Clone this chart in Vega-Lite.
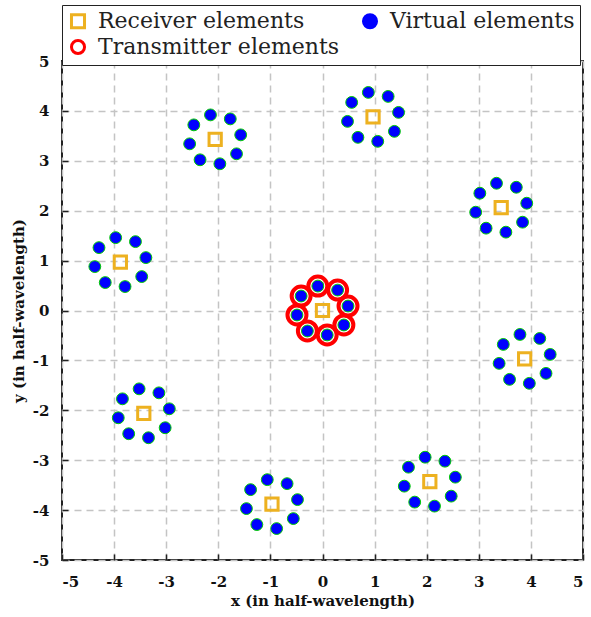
{
  "$schema": "https://vega.github.io/schema/vega-lite/v6.json",
  "width": 521,
  "height": 499,
  "autosize": {"type": "none"},
  "padding": {"left": 62, "top": 61, "right": 8, "bottom": 57},
  "background": "white",
  "config": {
    "view": {"stroke": "#222222", "strokeWidth": 2},
    "axis": {
      "grid": true,
      "gridColor": "#c4c4c4",
      "gridDash": [7, 5],
      "gridWidth": 1.5,
      "domain": false,
      "ticks": true,
      "tickSize": -6,
      "tickColor": "#222222",
      "tickWidth": 1.5,
      "labelFont": "DejaVu Serif",
      "labelFontSize": 15,
      "labelFontWeight": "bold",
      "labelColor": "#111111",
      "titleFont": "DejaVu Serif",
      "titleFontSize": 15,
      "titleFontWeight": "bold",
      "titleColor": "#111111"
    }
  },
  "datasets": {
    "pts": [
      {"x": 0.49, "y": 0.09, "k": "Transmitter elements"},
      {"x": 0.29, "y": 0.41, "k": "Transmitter elements"},
      {"x": -0.09, "y": 0.49, "k": "Transmitter elements"},
      {"x": -0.41, "y": 0.29, "k": "Transmitter elements"},
      {"x": -0.49, "y": -0.09, "k": "Transmitter elements"},
      {"x": -0.29, "y": -0.41, "k": "Transmitter elements"},
      {"x": 0.09, "y": -0.49, "k": "Transmitter elements"},
      {"x": 0.41, "y": -0.29, "k": "Transmitter elements"},
      {"x": 0, "y": 0, "k": "Receiver elements"},
      {"x": 0.97, "y": 3.88, "k": "Receiver elements"},
      {"x": 3.43, "y": 2.06, "k": "Receiver elements"},
      {"x": 3.88, "y": -0.97, "k": "Receiver elements"},
      {"x": 2.06, "y": -3.43, "k": "Receiver elements"},
      {"x": -0.97, "y": -3.88, "k": "Receiver elements"},
      {"x": -3.43, "y": -2.06, "k": "Receiver elements"},
      {"x": -3.88, "y": 0.97, "k": "Receiver elements"},
      {"x": -2.06, "y": 3.43, "k": "Receiver elements"},
      {"x": 0.49, "y": 0.09, "k": "Virtual elements"},
      {"x": 0.29, "y": 0.41, "k": "Virtual elements"},
      {"x": -0.09, "y": 0.49, "k": "Virtual elements"},
      {"x": -0.41, "y": 0.29, "k": "Virtual elements"},
      {"x": -0.49, "y": -0.09, "k": "Virtual elements"},
      {"x": -0.29, "y": -0.41, "k": "Virtual elements"},
      {"x": 0.09, "y": -0.49, "k": "Virtual elements"},
      {"x": 0.41, "y": -0.29, "k": "Virtual elements"},
      {"x": 1.46, "y": 3.97, "k": "Virtual elements"},
      {"x": 1.26, "y": 4.29, "k": "Virtual elements"},
      {"x": 0.88, "y": 4.37, "k": "Virtual elements"},
      {"x": 0.56, "y": 4.17, "k": "Virtual elements"},
      {"x": 0.48, "y": 3.79, "k": "Virtual elements"},
      {"x": 0.68, "y": 3.47, "k": "Virtual elements"},
      {"x": 1.06, "y": 3.39, "k": "Virtual elements"},
      {"x": 1.38, "y": 3.59, "k": "Virtual elements"},
      {"x": 3.92, "y": 2.15, "k": "Virtual elements"},
      {"x": 3.72, "y": 2.47, "k": "Virtual elements"},
      {"x": 3.34, "y": 2.55, "k": "Virtual elements"},
      {"x": 3.02, "y": 2.35, "k": "Virtual elements"},
      {"x": 2.94, "y": 1.97, "k": "Virtual elements"},
      {"x": 3.14, "y": 1.65, "k": "Virtual elements"},
      {"x": 3.52, "y": 1.57, "k": "Virtual elements"},
      {"x": 3.84, "y": 1.77, "k": "Virtual elements"},
      {"x": 4.37, "y": -0.88, "k": "Virtual elements"},
      {"x": 4.17, "y": -0.56, "k": "Virtual elements"},
      {"x": 3.79, "y": -0.48, "k": "Virtual elements"},
      {"x": 3.47, "y": -0.68, "k": "Virtual elements"},
      {"x": 3.39, "y": -1.06, "k": "Virtual elements"},
      {"x": 3.59, "y": -1.38, "k": "Virtual elements"},
      {"x": 3.97, "y": -1.46, "k": "Virtual elements"},
      {"x": 4.29, "y": -1.26, "k": "Virtual elements"},
      {"x": 2.55, "y": -3.34, "k": "Virtual elements"},
      {"x": 2.35, "y": -3.02, "k": "Virtual elements"},
      {"x": 1.97, "y": -2.94, "k": "Virtual elements"},
      {"x": 1.65, "y": -3.14, "k": "Virtual elements"},
      {"x": 1.57, "y": -3.52, "k": "Virtual elements"},
      {"x": 1.77, "y": -3.84, "k": "Virtual elements"},
      {"x": 2.15, "y": -3.92, "k": "Virtual elements"},
      {"x": 2.47, "y": -3.72, "k": "Virtual elements"},
      {"x": -0.48, "y": -3.79, "k": "Virtual elements"},
      {"x": -0.68, "y": -3.47, "k": "Virtual elements"},
      {"x": -1.06, "y": -3.39, "k": "Virtual elements"},
      {"x": -1.38, "y": -3.59, "k": "Virtual elements"},
      {"x": -1.46, "y": -3.97, "k": "Virtual elements"},
      {"x": -1.26, "y": -4.29, "k": "Virtual elements"},
      {"x": -0.88, "y": -4.37, "k": "Virtual elements"},
      {"x": -0.56, "y": -4.17, "k": "Virtual elements"},
      {"x": -2.94, "y": -1.97, "k": "Virtual elements"},
      {"x": -3.14, "y": -1.65, "k": "Virtual elements"},
      {"x": -3.52, "y": -1.57, "k": "Virtual elements"},
      {"x": -3.84, "y": -1.77, "k": "Virtual elements"},
      {"x": -3.92, "y": -2.15, "k": "Virtual elements"},
      {"x": -3.72, "y": -2.47, "k": "Virtual elements"},
      {"x": -3.34, "y": -2.55, "k": "Virtual elements"},
      {"x": -3.02, "y": -2.35, "k": "Virtual elements"},
      {"x": -3.39, "y": 1.06, "k": "Virtual elements"},
      {"x": -3.59, "y": 1.38, "k": "Virtual elements"},
      {"x": -3.97, "y": 1.46, "k": "Virtual elements"},
      {"x": -4.29, "y": 1.26, "k": "Virtual elements"},
      {"x": -4.37, "y": 0.88, "k": "Virtual elements"},
      {"x": -4.17, "y": 0.56, "k": "Virtual elements"},
      {"x": -3.79, "y": 0.48, "k": "Virtual elements"},
      {"x": -3.47, "y": 0.68, "k": "Virtual elements"},
      {"x": -1.57, "y": 3.52, "k": "Virtual elements"},
      {"x": -1.77, "y": 3.84, "k": "Virtual elements"},
      {"x": -2.15, "y": 3.92, "k": "Virtual elements"},
      {"x": -2.47, "y": 3.72, "k": "Virtual elements"},
      {"x": -2.55, "y": 3.34, "k": "Virtual elements"},
      {"x": -2.35, "y": 3.02, "k": "Virtual elements"},
      {"x": -1.97, "y": 2.94, "k": "Virtual elements"},
      {"x": -1.65, "y": 3.14, "k": "Virtual elements"}
    ]
  },
  "data": {"name": "pts"},
  "encoding": {
    "x": {
      "field": "x", "type": "quantitative",
      "scale": {"domain": [-5, 5], "nice": false, "zero": false},
      "axis": {"values": [-5, -4, -3, -2, -1, 0, 1, 2, 3, 4, 5], "title": "x (in half-wavelength)", "labelPadding": 20, "titlePadding": 4, "labelExpr": "'' + datum.value"}
    },
    "y": {
      "field": "y", "type": "quantitative",
      "scale": {"domain": [-5, 5], "nice": false, "zero": false},
      "axis": {"values": [-5, -4, -3, -2, -1, 0, 1, 2, 3, 4, 5], "title": "y (in half-wavelength)", "labelPadding": 19, "titlePadding": 6, "labelExpr": "'' + datum.value"}
    },
    "shape": {
      "field": "k", "type": "nominal",
      "scale": {"domain": ["Receiver elements", "Transmitter elements", "Virtual elements"], "range": ["square", "circle", "circle"]},
      "legend": {
        "title": null,
        "orient": "none",
        "legendX": 0,
        "legendY": -56,
        "columns": 2,
        "columnPadding": 17,
        "rowPadding": 0,
        "padding": 5,
        "strokeColor": "#222222",
        "fillColor": "white",
        "labelFont": "DejaVu Serif",
        "labelFontSize": 22,
        "labelColor": "#222222",
        "labelLimit": 400,
        "labelOffset": 9,
        "symbolSize": 170,
        "symbolStrokeWidth": 3,
        "symbolOpacity": 1
      }
    },
    "stroke": {
      "field": "k", "type": "nominal",
      "scale": {"domain": ["Receiver elements", "Transmitter elements", "Virtual elements"], "range": ["#EDB120", "#FF0000", "#0000FF"]}
    },
    "fill": {
      "field": "k", "type": "nominal",
      "scale": {"domain": ["Receiver elements", "Transmitter elements", "Virtual elements"], "range": ["transparent", "transparent", "#0000FF"]}
    }
  },
  "layer": [
    {
      "transform": [{"filter": "datum.k == 'Transmitter elements'"}],
      "mark": {"type": "point", "filled": true, "opacity": 1, "size": 360, "strokeWidth": 4}
    },
    {
      "transform": [{"filter": "datum.k == 'Receiver elements'"}],
      "mark": {"type": "point", "filled": true, "opacity": 1, "size": 150, "strokeWidth": 3}
    },
    {
      "transform": [{"filter": "datum.k == 'Virtual elements'"}],
      "mark": {"type": "point", "filled": true, "opacity": 1, "size": 140, "strokeWidth": 1, "stroke": "#00CC00"},
      "encoding": {"stroke": {"value": "#00CC00"}}
    }
  ]
}
